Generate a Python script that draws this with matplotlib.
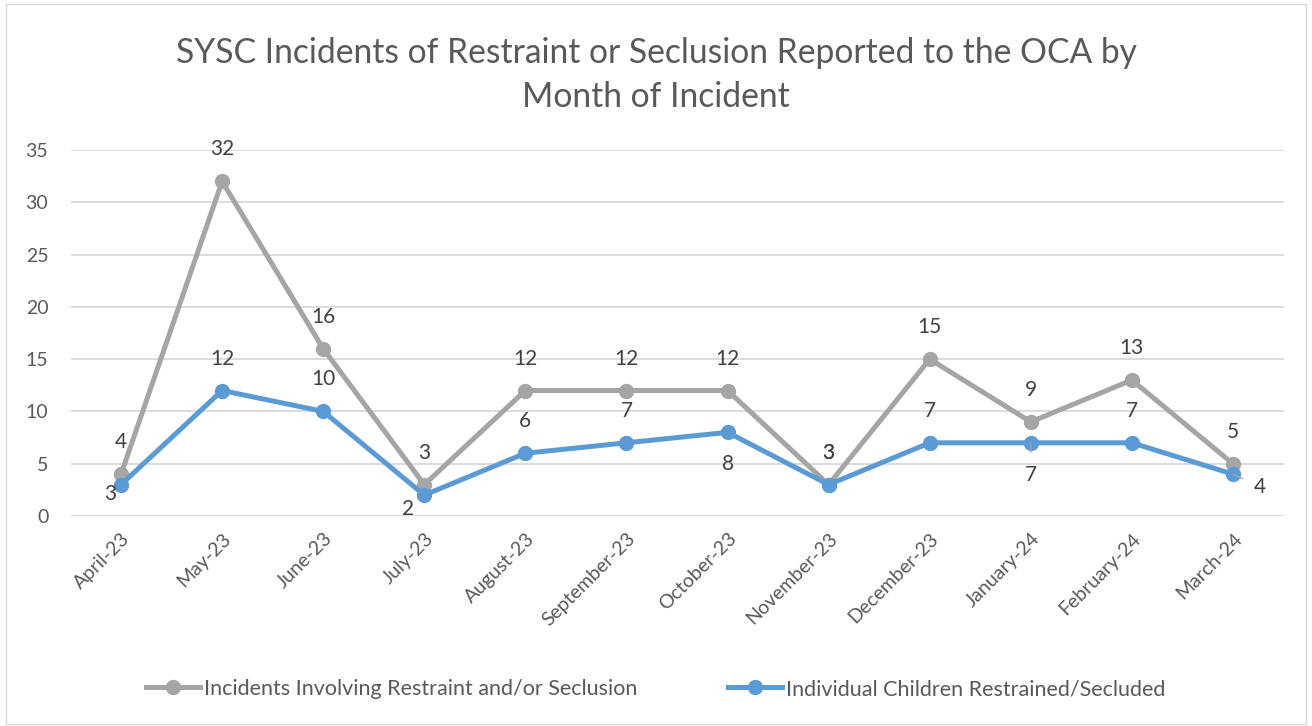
import matplotlib.pyplot as plt
from matplotlib.patches import Rectangle
from matplotlib.lines import Line2D

plt.rcParams['font.family'] = ['Lato', 'DejaVu Sans']

months = ["April-23", "May-23", "June-23", "July-23", "August-23", "September-23",
          "October-23", "November-23", "December-23", "January-24", "February-24", "March-24"]
incidents = [4, 32, 16, 3, 12, 12, 12, 3, 15, 9, 13, 5]
children = [3, 12, 10, 2, 6, 7, 8, 3, 7, 7, 7, 4]

# label offsets in pixels (dx, dy) -- taken from where Excel put them
inc_off = [(0, 32)] * 12
child_off = [(-11, -9), (0, 32), (0, 32), (-16, -14), (0, 32), (0, 32),
             (0, -32), (0, 32), (0, 32), (0, -32), (0, 32), (27, -13)]
leader = [False] * 9 + [True, False, True]

gray = "#A5A5A5"
blue = "#5B9BD5"
txt = "#404040"
tick_c = "#595959"

fig = plt.figure(figsize=(13.12, 7.26), dpi=100)
ax = fig.add_axes([70.5 / 1312, 1 - 516 / 726, 1213 / 1312, 366 / 726])

x = list(range(len(months)))
ax.plot(x, incidents, color=gray, lw=3.6, marker='o', ms=10, solid_capstyle='round', zorder=3)
ax.plot(x, children, color=blue, lw=3.6, marker='o', ms=10, solid_capstyle='round', zorder=4)

px = 72 / 100
for i, v in enumerate(incidents):
    dx, dy = inc_off[i]
    ax.annotate(str(v), (i, v), xytext=(dx * px, dy * px), textcoords='offset points',
                ha='center', va='center', fontsize=15, color=txt, zorder=5)
for i, v in enumerate(children):
    dx, dy = child_off[i]
    props = None
    if leader[i]:
        props = dict(arrowstyle='-', color=gray, lw=1, shrinkA=7, shrinkB=0)
    ax.annotate(str(v), (i, v), xytext=(dx * px, dy * px), textcoords='offset points',
                ha='center', va='center', fontsize=15, color=txt, zorder=5,
                arrowprops=props)

ax.set_xlim(-0.5, len(months) - 0.5)
ax.set_ylim(0, 35)
ax.set_yticks(range(0, 36, 5))
ax.grid(axis='y', color='#D9D9D9', lw=1.3)
ax.set_axisbelow(True)
for s in ax.spines.values():
    s.set_visible(False)
ax.tick_params(length=0, colors=tick_c, labelsize=14)
ax.tick_params(axis='y', pad=16)
ax.set_xticks(x)
ax.set_xticklabels(months, rotation=45, ha='right', rotation_mode='anchor')
ax.tick_params(axis='x', pad=10)

fig.text(0.5, 1 - 75 / 726, "SYSC Incidents of Restraint or Seclusion Reported to the OCA by\nMonth of Incident",
         ha='center', va='center', fontsize=24.2, color=tick_c, linespacing=1.45)

handles = [Line2D([], [], color=gray, lw=3.6, marker='o', ms=10),
           Line2D([], [], color=blue, lw=3.6, marker='o', ms=10)]
fig.legend(handles, ["Incidents Involving Restraint and/or Seclusion",
                     "Individual Children Restrained/Secluded"],
           loc='center', bbox_to_anchor=(0.5, 1 - 689 / 726), ncol=2, frameon=False,
           fontsize=15.5, labelcolor=tick_c, handlelength=2.5, handletextpad=0.2, columnspacing=4.2)

fig.patches.append(Rectangle((6 / 1312, 2 / 726), 1300 / 1312, 720 / 726, transform=fig.transFigure,
                             fill=False, edgecolor='#D9D9D9', lw=1))

fig.savefig("out.png", dpi=100, facecolor='white')
